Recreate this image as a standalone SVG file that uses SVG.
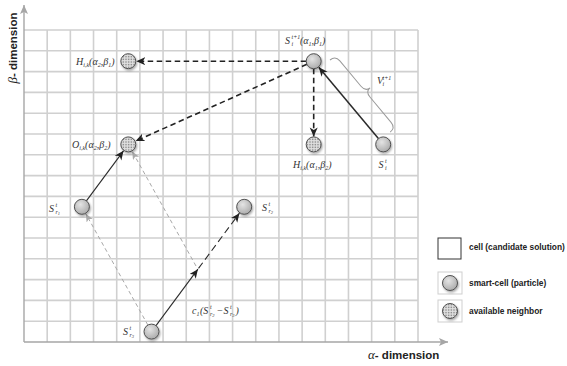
<svg xmlns="http://www.w3.org/2000/svg" width="567" height="366" viewBox="0 0 567 366">
<style>
.grid{fill:none;stroke:#d0d0d0;stroke-width:1.6}
.axis{fill:none;stroke:#a6a6a6;stroke-width:1.4}
.node{stroke:#505050;stroke-width:1;filter:url(#sh)}
.plain{fill:url(#rg)}
.dot{fill:url(#dots)}
.m{font-family:"Liberation Serif",serif;font-style:italic;font-size:10px;fill:#333}
.s{font-size:6px}
.xs{font-size:4.5px}
.ax{font-family:"Liberation Sans",Arial,sans-serif;font-weight:bold;font-size:11.5px;fill:#222}
.lg{font-family:"Liberation Sans",Arial,sans-serif;font-weight:bold;font-size:8.4px;fill:#222}
.dk{fill:none;stroke:#222;stroke-width:1.6;stroke-dasharray:5.5 3.5}
.sol{fill:none;stroke:#2a2a2a}
.gr{fill:none;stroke:#a8a8a8;stroke-width:1;stroke-dasharray:4 3}
</style>
<defs>
<radialGradient id="rg" cx="0.4" cy="0.35" r="0.7">
<stop offset="0" stop-color="#e4e4e4"/>
<stop offset="1" stop-color="#a9a9a9"/>
</radialGradient>
<pattern id="dots" width="1.6" height="1.6" patternUnits="userSpaceOnUse">
<rect width="1.6" height="1.6" fill="#e2e2e2"/>
<rect width="0.8" height="0.8" fill="#7a7a7a"/>
</pattern>
<filter id="sh" x="-50%" y="-50%" width="200%" height="200%">
<feDropShadow dx="1" dy="1.5" stdDeviation="1" flood-color="#000" flood-opacity="0.35"/>
</filter>
<marker id="ad" markerUnits="userSpaceOnUse" markerWidth="10" markerHeight="9" refX="9" refY="4" orient="auto">
<path d="M0,0 L9,4 L0,8 L2.5,4 z" fill="#222"/>
</marker>
<marker id="ag" markerUnits="userSpaceOnUse" markerWidth="10" markerHeight="9" refX="8" refY="3.5" orient="auto">
<path d="M0,0 L8,3.5 L0,7 L2,3.5 z" fill="#aaa"/>
</marker>
<marker id="ax" markerUnits="userSpaceOnUse" markerWidth="10" markerHeight="10" refX="9" refY="4" orient="auto">
<path d="M0,0 L9,4 L0,8 L2,4 z" fill="#a6a6a6"/>
</marker>
</defs>
<rect width="567" height="366" fill="#fff"/>
<g id="grid">
<path class="grid" d="M47.18,30V342M70.35,30V342M93.53,30V342M116.71,30V342M139.88,30V342M163.06,30V342M186.24,30V342M209.41,30V342M232.59,30V342M255.76,30V342M278.94,30V342M302.12,30V342M325.29,30V342M348.47,30V342M371.65,30V342M394.82,30V342M418,30V342
M24,30H418M24,50.8H418M24,71.6H418M24,92.4H418M24,113.2H418M24,134H418M24,154.8H418M24,175.6H418M24,196.4H418M24,217.2H418M24,238H418M24,258.8H418M24,279.6H418M24,300.4H418M24,321.2H418"/>
</g>
<g id="axes">
<path class="axis" d="M24,342V5" marker-end="url(#ax)"/>
<path class="axis" d="M24,342H448" marker-end="url(#ax)"/>
<text class="ax" transform="translate(17,48) rotate(-90)" text-anchor="middle"><tspan font-family="Liberation Serif,serif" font-style="italic" font-weight="normal" font-size="13">β</tspan>- dimension</text>
<text class="ax" x="368" y="359"><tspan font-family="Liberation Serif,serif" font-style="italic" font-weight="normal" font-size="13">α</tspan>- dimension</text>
</g>
<g id="connectors">
<path class="dk" d="M306.2,61.2H136.3" marker-end="url(#ad)"/>
<path class="dk" d="M306.9,64.3L135.6,141.1" marker-end="url(#ad)"/>
<path class="dk" d="M313.7,68.7V136.4" marker-end="url(#ad)"/>
<path class="sol" stroke-width="1.5" d="M378.4,138.6L318.8,67.3" marker-end="url(#ad)"/>
<path class="sol" stroke-width="1.1" d="M86.4,200.8L123.5,150.8" marker-end="url(#ad)"/>
<path class="sol" stroke-width="1.1" d="M156,325.6L197.9,269.2" marker-end="url(#ad)"/>
<path class="sol" stroke-width="1.1" stroke-dasharray="7 4" d="M198.5,268.4L239.4,213.2" marker-end="url(#ad)"/>
<path class="gr" d="M147.9,325.1L85.8,213.8" marker-end="url(#ag)"/>
<path class="gr" d="M196,266L132.2,151.4" marker-end="url(#ag)"/>
<path fill="none" stroke="#9a9a9a" stroke-width="1" transform="translate(330,60) rotate(50.2)" d="M0,0 Q0,-7 7,-7 L40,-7 Q47,-7 47,-13 Q47,-7 54,-7 L87,-7 Q94,-7 94,0"/>
</g>
<g id="n-h21">
<circle class="node dot" cx="128.3" cy="61.2" r="7.5"/>
<text class="m" x="76" y="64.5">H<tspan class="s" dy="2">i,k</tspan><tspan dy="-2">(α</tspan><tspan class="s" dy="2">2</tspan><tspan dy="-2">,β</tspan><tspan class="s" dy="2">1</tspan><tspan dy="-2">)</tspan></text>
</g>
<g id="n-st1">
<circle class="node plain" cx="313.7" cy="61.2" r="7.5"/>
<text class="m" x="285" y="44">S<tspan class="s" x="291.5" y="39">t+1</tspan><tspan class="s" x="291.5" y="46">i</tspan><tspan x="300" y="44">(α</tspan><tspan class="s" dy="2">1</tspan><tspan dy="-2">,β</tspan><tspan class="s" dy="2">1</tspan><tspan dy="-2">)</tspan></text>
</g>
<g id="n-o">
<circle class="node dot" cx="128.3" cy="144.4" r="7.5"/>
<text class="m" x="72" y="148">O<tspan class="s" dy="2">i,k</tspan><tspan dy="-2">(α</tspan><tspan class="s" dy="2">2</tspan><tspan dy="-2">,β</tspan><tspan class="s" dy="2">2</tspan><tspan dy="-2">)</tspan></text>
</g>
<g id="n-h12">
<circle class="node dot" cx="313.7" cy="144.4" r="7.5"/>
<text class="m" x="293" y="168">H<tspan class="s" dy="2">i,k</tspan><tspan dy="-2">(α</tspan><tspan class="s" dy="2">1</tspan><tspan dy="-2">,β</tspan><tspan class="s" dy="2">2</tspan><tspan dy="-2">)</tspan></text>
</g>
<g id="n-st">
<circle class="node plain" cx="383.2" cy="144.4" r="7.5"/>
<text class="m" x="378.5" y="168">S<tspan class="s" x="385" y="163">t</tspan><tspan class="s" x="385" y="170">i</tspan></text>
</g>
<g id="n-sr2">
<circle class="node plain" cx="244.2" cy="206.8" r="7.5"/>
<text class="m" x="262" y="211">S<tspan class="s" x="268.5" y="206">t</tspan><tspan class="s" x="268.5" y="213">r</tspan><tspan class="xs" dy="1">2</tspan></text>
</g>
<g id="n-sr1">
<circle class="node plain" cx="81.9" cy="206.8" r="7.5"/>
<text class="m" x="49" y="212">S<tspan class="s" x="55.5" y="207">t</tspan><tspan class="s" x="55.5" y="214">r</tspan><tspan class="xs" dy="1">1</tspan></text>
</g>
<g id="n-sr3">
<circle class="node plain" cx="151.5" cy="331.6" r="7.5"/>
<text class="m" x="123" y="335">S<tspan class="s" x="129.5" y="330">t</tspan><tspan class="s" x="129.5" y="337">r</tspan><tspan class="xs" dy="1">3</tspan></text>
</g>
<g id="labels">
<text class="m" x="192" y="314">c<tspan class="s" x="196.5" y="316">1</tspan><tspan x="200" y="314">(S</tspan><tspan class="s" x="210" y="309">t</tspan><tspan class="s" x="210" y="316">r</tspan><tspan class="xs" dy="1">2</tspan><tspan x="216.5" y="314">−</tspan><tspan x="223.5" y="314">S</tspan><tspan class="s" x="230" y="309">t</tspan><tspan class="s" x="230" y="316">r</tspan><tspan class="xs" dy="1">3</tspan><tspan x="235.5" y="314">)</tspan></text>
<text class="m" font-size="8" x="377" y="84">V<tspan class="s" x="382.5" y="79.5">t+1</tspan><tspan class="s" x="382.5" y="86">i</tspan></text>
</g>
<g id="legend">
<rect x="438" y="238" width="23" height="21" fill="#fff" stroke="#333" stroke-width="1"/>
<text class="lg" x="469" y="250">cell (candidate solution)</text>
<rect x="438" y="272" width="24" height="22" fill="#fff" stroke="#cfcfcf" stroke-width="1"/>
<circle class="node plain" cx="450" cy="283" r="7.5"/>
<text class="lg" x="469" y="286">smart-cell (particle)</text>
<rect x="438" y="300" width="24" height="22" fill="#fff" stroke="#cfcfcf" stroke-width="1"/>
<circle class="node dot" cx="450" cy="311" r="7.5"/>
<text class="lg" x="469" y="314">available neighbor</text>
</g>
</svg>
